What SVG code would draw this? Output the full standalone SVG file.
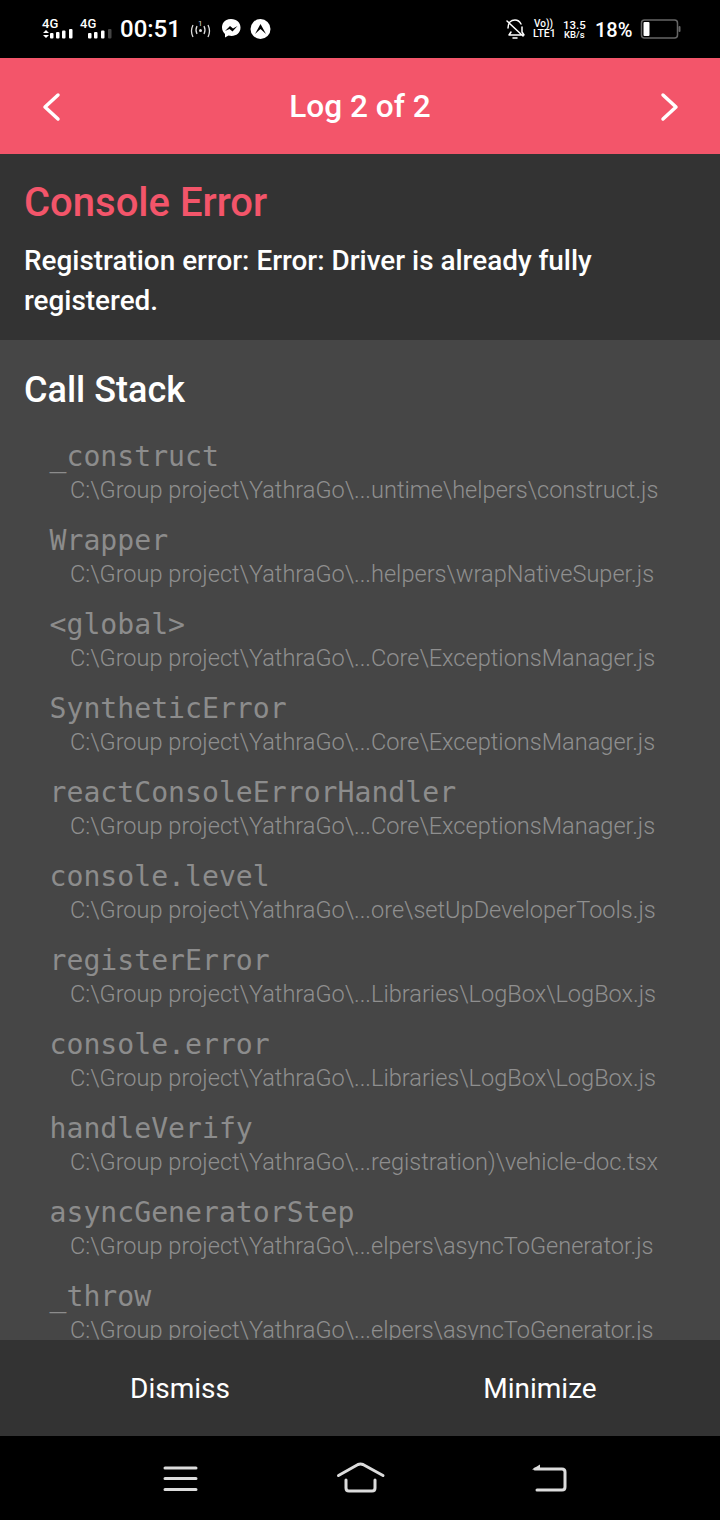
<svg xmlns="http://www.w3.org/2000/svg" width="720" height="1520" viewBox="0 0 720 1520">
<style>
text{font-family:Roboto,"Liberation Sans",sans-serif}
.m{font-family:"DejaVu Sans Mono","Liberation Mono",monospace;font-size:28.150px;fill:#8c8c8c}
.p{font-size:23.570px;font-weight:300;fill:#8f8f8f}
.w{fill:#fff}
.ic{fill:none;stroke:#fff;stroke-linecap:round;stroke-linejoin:round}
.nav{fill:none;stroke:#dcdcdc;stroke-width:3;stroke-linecap:round;stroke-linejoin:round}
.s{fill:#fff;font-weight:500}
</style>
<rect width="720" height="1520" fill="#000"/>
<rect y="58" width="720" height="96" fill="#f3556a"/>
<rect y="154" width="720" height="186" fill="#333333"/>
<rect y="340" width="720" height="1000" fill="#464646"/>

<g id="status-bar">
<text x="42" y="28" class="s" font-size="13">4G</text>
<path d="M43 33l3-3 3 3zM43 35h6l-3 3z" fill="#fff"/>
<g fill="#fff"><rect x="50" y="33" width="3.500" height="5.500" rx="1"/><rect x="56" y="32" width="3.500" height="6.500" rx="1"/><rect x="62" y="30.500" width="3.500" height="8" rx="1"/><rect x="69" y="29" width="3.500" height="9.500" rx="1"/></g>
<text x="80" y="28" class="s" font-size="13">4G</text>
<g fill="#fff"><rect x="88" y="33" width="3.500" height="5.500" rx="1"/><rect x="94" y="32" width="3.500" height="6.500" rx="1"/><rect x="101" y="30.500" width="3.500" height="8" rx="1"/></g>
<rect x="108" y="29" width="3.500" height="9.500" rx="1" fill="#444"/>
<text x="120" y="37" class="s" font-size="24">00:51</text>
<text x="198" y="26" fill="#ddd" font-size="8">1</text>
<circle cx="200.500" cy="30.500" r="1.500" fill="#ddd"/>
<path d="M193 25q-3 6 0 12M208 25q3 6 0 12M197 26q-2 4 0 8M204 26q2 4 0 8" fill="none" stroke="#ddd" stroke-width="1.300"/>
<path d="M231 19c-7.500 0-9 5.500-9 8.500 0 3 1.500 5 3 6.500v3.500l3.500-2c6 1.500 12-1.500 12-8 0-4.500-3.500-8.500-9.500-8.500z" fill="#fff"/>
<path d="M225 31l5-5 3 2.500 4.500-2.500-5 5.500-3-2.500z" fill="#000"/>
<circle cx="260.500" cy="29" r="10" fill="#fff"/>
<path d="M255 34l5.500-10 5.500 10-5.500-5z" fill="#000"/>
<path d="M508 28c0-5 3-8 7-8 3 0 5 2 6 4M522 27v5l2 3h-15l2-3M507 21l16 15M513 38h4" class="ic" stroke-width="1.500"/>
<text x="534" y="27" class="s" font-size="10">Vo))</text>
<text x="533" y="37" class="s" font-size="10.500">LTE1</text>
<text x="563" y="29" class="s" font-size="11.500">13.5</text>
<text x="564" y="38" class="s" font-size="9.500">KB/s</text>
<text x="595" y="37" class="s" font-size="20">18%</text>
<rect x="641.500" y="20" width="36" height="18" rx="3" fill="none" stroke="#666" stroke-width="1.500"/>
<rect x="643.500" y="22" width="6" height="14" rx="1" fill="#fff"/>
<rect x="678.500" y="26" width="2" height="6" rx="1" fill="#666"/>
</g>

<g id="header">
<path d="M58 95L45 107L58 119" class="ic" stroke-width="3.500"/>
<text x="360" y="117" text-anchor="middle" class="w" font-size="31.600" font-weight="500">Log 2 of 2</text>
<path d="M663 95L676 107L663 119" class="ic" stroke-width="3.500"/>
</g>

<g id="message">
<text x="24" y="216" fill="#f3556a" font-size="40" font-weight="500">Console Error</text>
<text x="24" y="270" class="w" font-size="27.900" font-weight="500">Registration error: Error: Driver is already fully</text>
<text x="24" y="310" class="w" font-size="27.900" font-weight="500">registered.</text>
</g>

<g id="stack">
<text x="24" y="402" class="w" font-size="36" font-weight="500">Call Stack</text>
<text x="49.500" y="466" class="m">_construct</text>
<text x="70" y="498" class="p">C:\Group project\YathraGo\...untime\helpers\construct.js</text>
<text x="49.500" y="550" class="m">Wrapper</text>
<text x="70" y="582" class="p">C:\Group project\YathraGo\...helpers\wrapNativeSuper.js</text>
<text x="49.500" y="634" class="m">&lt;global&gt;</text>
<text x="70" y="666" class="p">C:\Group project\YathraGo\...Core\ExceptionsManager.js</text>
<text x="49.500" y="718" class="m">SyntheticError</text>
<text x="70" y="750" class="p">C:\Group project\YathraGo\...Core\ExceptionsManager.js</text>
<text x="49.500" y="802" class="m">reactConsoleErrorHandler</text>
<text x="70" y="834" class="p">C:\Group project\YathraGo\...Core\ExceptionsManager.js</text>
<text x="49.500" y="886" class="m">console.level</text>
<text x="70" y="918" class="p">C:\Group project\YathraGo\...ore\setUpDeveloperTools.js</text>
<text x="49.500" y="970" class="m">registerError</text>
<text x="70" y="1002" class="p">C:\Group project\YathraGo\...Libraries\LogBox\LogBox.js</text>
<text x="49.500" y="1054" class="m">console.error</text>
<text x="70" y="1086" class="p">C:\Group project\YathraGo\...Libraries\LogBox\LogBox.js</text>
<text x="49.500" y="1138" class="m">handleVerify</text>
<text x="70" y="1170" class="p">C:\Group project\YathraGo\...registration)\vehicle-doc.tsx</text>
<text x="49.500" y="1222" class="m">asyncGeneratorStep</text>
<text x="70" y="1254" class="p">C:\Group project\YathraGo\...elpers\asyncToGenerator.js</text>
<text x="49.500" y="1306" class="m">_throw</text>
<text x="70" y="1338" class="p">C:\Group project\YathraGo\...elpers\asyncToGenerator.js</text>
</g>

<g id="footer">
<rect y="1340" width="720" height="96" fill="#333333"/>
<text x="180" y="1398" text-anchor="middle" class="w" font-size="28">Dismiss</text>
<text x="540" y="1398" text-anchor="middle" class="w" font-size="28">Minimize</text>
</g>

<g id="nav-bar">
<path d="M165 1468H196M165 1478.500H196M165 1489.500H196" class="nav"/>
<path d="M338.500 1475.500L358 1464.500Q360.500 1463.500 363 1464.500L383 1475.500M346 1480V1488Q346 1491 349 1491H372Q375 1491 375 1488V1480" class="nav"/>
<path d="M537 1490H562Q565 1490 565 1487V1472Q565 1469 562 1469H535" class="nav"/>
<path d="M532 1469.500L540 1464.500V1470z" fill="#dcdcdc"/>
</g>
</svg>
